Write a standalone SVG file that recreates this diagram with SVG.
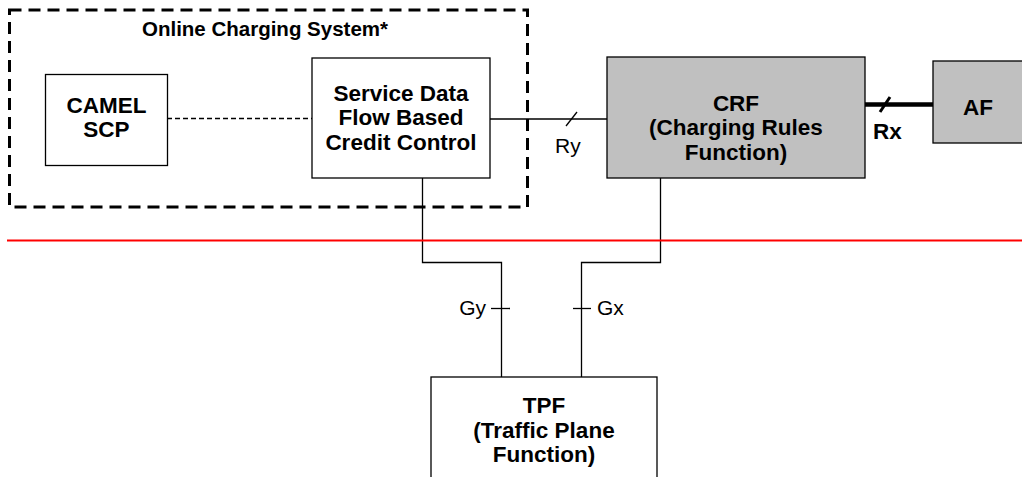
<svg xmlns="http://www.w3.org/2000/svg" width="1022" height="477" viewBox="0 0 1022 477">
<style>
text{font-family:"Liberation Sans",Arial,sans-serif;font-size:22.5px;fill:#000}
.b{font-weight:bold;text-anchor:middle}
.t{font-size:20.5px}
.n{font-size:21px}
.box{fill:#fff;stroke:#000;stroke-width:1.3}
.grey{fill:#c0c0c0;stroke:#000;stroke-width:1.3}
.ln{fill:none;stroke:#000;stroke-width:1.3}
</style>
<rect width="1022" height="477" fill="#fff"/>
<g id="ocs">
<rect x="9.5" y="10" width="518" height="197" fill="none" stroke="#000" stroke-width="3" stroke-dasharray="12,7"/>
<text class="b t" x="265" y="36">Online Charging System*</text>
</g>
<g id="connectors">
<line class="ln" x1="167" y1="118.5" x2="312" y2="118.5" stroke-dasharray="5,3"/>
<line class="ln" x1="490" y1="119" x2="607" y2="119"/>
<line class="ln" x1="566" y1="126" x2="577" y2="112"/>
<text class="n" x="555" y="153">Ry</text>
<line x1="865" y1="104.5" x2="933" y2="104.5" stroke="#000" stroke-width="4.5"/>
<line x1="880" y1="112" x2="890" y2="97" stroke="#000" stroke-width="3"/>
<text x="873" y="139" font-weight="bold" font-size="20">Rx</text>
<polyline class="ln" points="422.5,178 422.5,262.5 501.5,262.5 501.5,377"/>
<polyline class="ln" points="660.5,178 660.5,262.5 581.5,262.5 581.5,377"/>
<line class="ln" x1="491" y1="308.5" x2="510" y2="308.5"/>
<line class="ln" x1="573" y1="308.5" x2="591" y2="308.5"/>
<text class="n" x="486" y="315" text-anchor="end">Gy</text>
<text class="n" x="597" y="315">Gx</text>
</g>
<line id="boundary" x1="7" y1="240.5" x2="1022" y2="240.5" stroke="#f00" stroke-width="2"/>
<g id="camel">
<rect class="box" x="45.5" y="74.5" width="122" height="91"/>
<text class="b" x="106.5" y="113">CAMEL</text>
<text class="b" x="106.5" y="137">SCP</text>
</g>
<g id="sdf">
<rect class="box" x="312" y="58" width="178" height="120"/>
<text class="b" x="401" y="101">Service Data</text>
<text class="b" x="401" y="125">Flow Based</text>
<text class="b" x="401" y="150">Credit Control</text>
</g>
<g id="crf">
<rect class="grey" x="607" y="57" width="258" height="121"/>
<text class="b" x="736" y="111">CRF</text>
<text class="b" x="736" y="135">(Charging Rules</text>
<text class="b" x="736" y="160">Function)</text>
</g>
<g id="af">
<rect class="grey" x="933" y="61" width="95" height="82"/>
<text class="b" x="978" y="115">AF</text>
</g>
<g id="tpf">
<rect class="box" x="431" y="377" width="226" height="110"/>
<text class="b" x="544" y="413">TPF</text>
<text class="b" x="544" y="438">(Traffic Plane</text>
<text class="b" x="544" y="462">Function)</text>
</g>
</svg>
